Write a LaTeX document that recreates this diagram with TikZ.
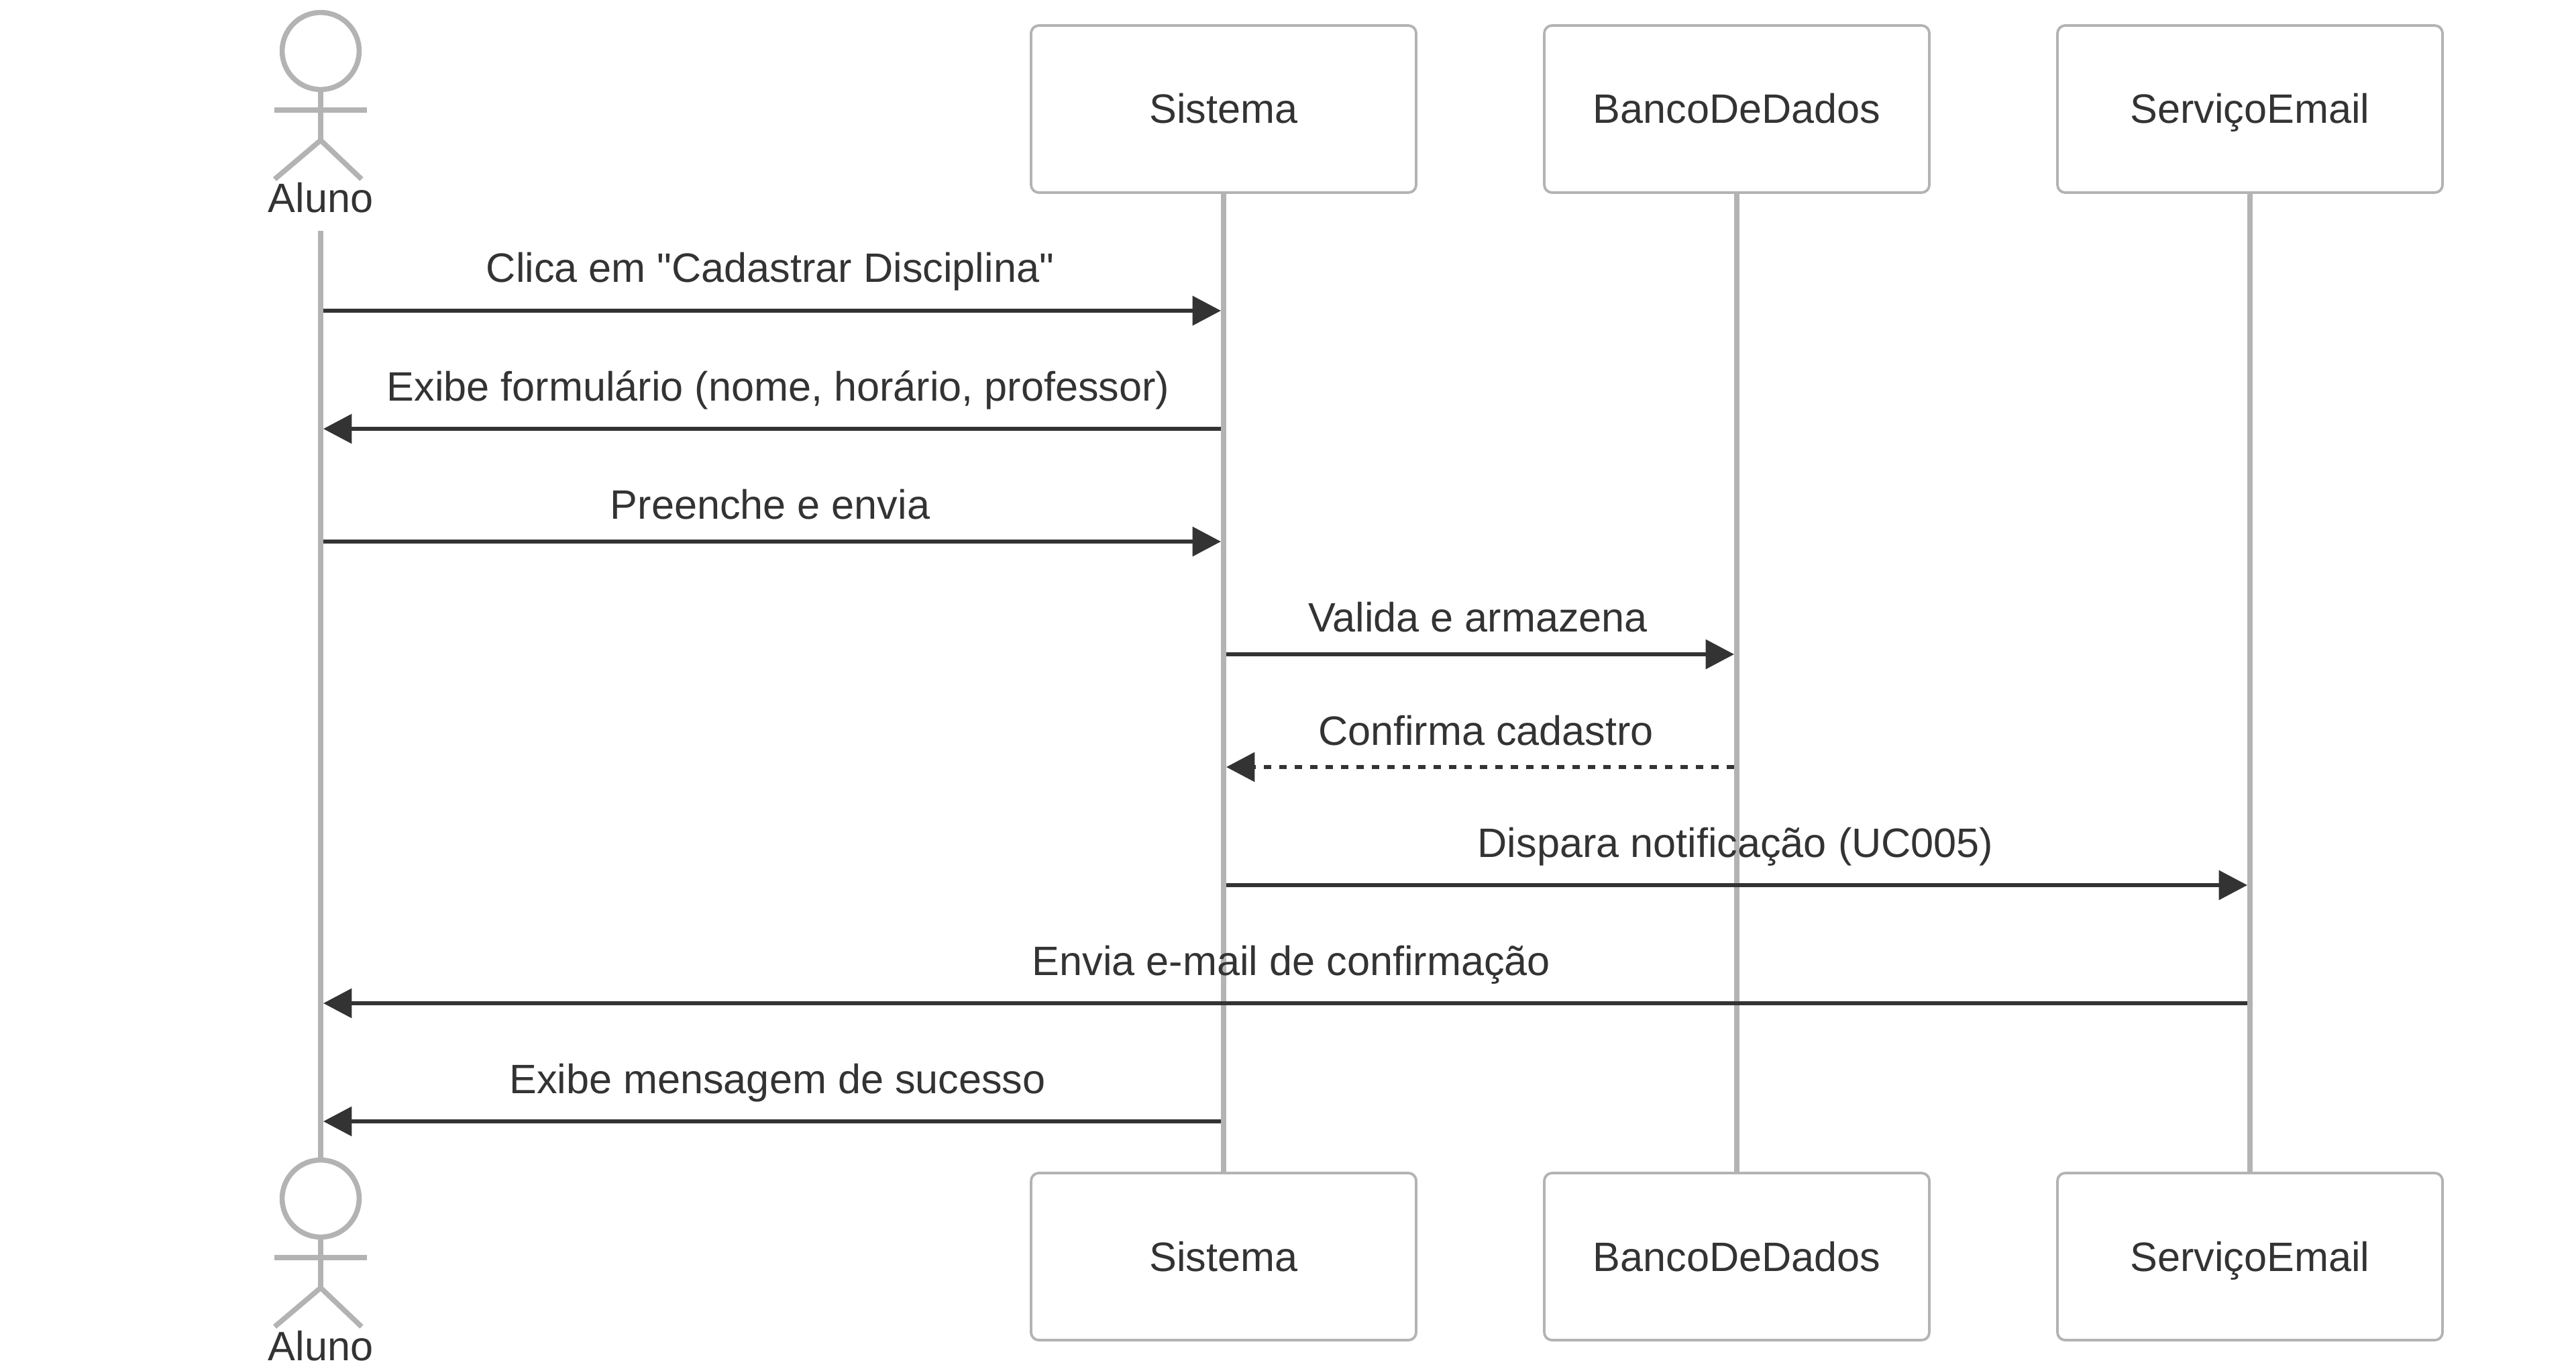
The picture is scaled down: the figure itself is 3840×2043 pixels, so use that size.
\documentclass[tikz,border=0pt]{standalone}
\usepackage{fontspec}
\setmainfont{Liberation Sans}[Ligatures=TeXOff]
\usetikzlibrary{arrows.meta}
\definecolor{inkc}{HTML}{333333}
\definecolor{lifec}{HTML}{B3B3B3}
\definecolor{boxc}{HTML}{B3B3B3}
\tikzset{
  x=0.25pt, y=-0.25pt,
  partbox/.style={draw=boxc, line width=0.956pt, fill=white, rounded corners=2.9pt,
    minimum width=143.5pt, minimum height=62.25pt, inner sep=0pt, outer sep=0pt,
    text=inkc, font=\fontsize{15.3}{18}\selectfont, text height=10.75pt, text depth=0pt},
  lifeln/.style={draw=lifec, line width=1.9125pt},
  actorln/.style={draw=lifec, line width=1.9125pt},
  msg/.style={draw=inkc, line width=1.435pt, -{Triangle[length=10.6pt,width=10.8pt,fill=inkc]}},
  msgdash/.style={msg, dash pattern=on 2.875pt off 2.875pt},
  msgtext/.style={anchor=base, inner sep=0pt, outer sep=0pt, text=inkc, font=\fontsize{15.3}{18}\selectfont},
}
\begin{document}
\begin{tikzpicture}
\useasboundingbox (0,0) rectangle (3840,2043);
\fill[white] (0,0) rectangle (3840,2043);

% lifeline end points of the actor
\coordinate (alunoLifeTop) at (478,344);
\coordinate (alunoLifeBot) at (478,1725);

% participant boxes
\node[partbox] (sisTop) at (1824,162.5) {Sistema};
\node[partbox] (banTop) at (2589,162.5) {BancoDeDados};
\node[partbox] (serTop) at (3354,162.5) {ServiçoEmail};
\node[partbox] (sisBot) at (1824,1872.5) {Sistema};
\node[partbox] (banBot) at (2589,1872.5) {BancoDeDados};
\node[partbox] (serBot) at (3354,1872.5) {ServiçoEmail};

% lifelines
\draw[lifeln] (alunoLifeTop) -- (alunoLifeBot);
\draw[lifeln] (sisTop.south) -- (sisBot.north);
\draw[lifeln] (banTop.south) -- (banBot.north);
\draw[lifeln] (serTop.south) -- (serBot.north);

% actors
\foreach \n/\dy in {T/0, B/1710}{
  \draw[actorln, fill=white] (478,76+\dy) circle[radius=57.4];
  \draw[actorln] (478,133+\dy) -- (478,209+\dy);
  \draw[actorln] (409,164+\dy) -- (547,164+\dy);
  \draw[actorln] (409.5,267+\dy) -- (478,209+\dy) -- (539,267+\dy);
  \node[msgtext] (aluno\n) at (478,317+\dy) {Aluno};
}

% message end points
\coordinate (m1s) at (482,463);    \coordinate (m1t) at (1820,463);
\coordinate (m2s) at (1820,639);   \coordinate (m2t) at (482,639);
\coordinate (m3s) at (482,807);    \coordinate (m3t) at (1820,807);
\coordinate (m4s) at (1828,975);   \coordinate (m4t) at (2585,975);
\coordinate (m5s) at (2585,1143);  \coordinate (m5t) at (1828,1143);
\coordinate (m6s) at (1828,1319);  \coordinate (m6t) at (3350,1319);
\coordinate (m7s) at (3350,1495);  \coordinate (m7t) at (482,1495);
\coordinate (m8s) at (1820,1671);  \coordinate (m8t) at (482,1671);

% message labels
\node[msgtext] (l1) at (1148,421) {Clica em "Cadastrar Disciplina"};
\node[msgtext] (l2) at (1160,597) {Exibe formulário (nome, horário, professor)};
\node[msgtext] (l3) at (1148,773) {Preenche e envia};
\node[msgtext] (l4) at (2203,941) {Valida e armazena};
\node[msgtext] (l5) at (2215,1110) {Confirma cadastro};
\node[msgtext] (l6) at (2587,1277) {Dispara notificação (UC005)};
\node[msgtext] (l7) at (1925,1453) {Envia e-mail de confirmação};
\node[msgtext] (l8) at (1159,1629) {Exibe mensagem de sucesso};

% messages
\draw[msg] (m1s) -- (m1t);
\draw[msg] (m2s) -- (m2t);
\draw[msg] (m3s) -- (m3t);
\draw[msg] (m4s) -- (m4t);
\draw[msgdash] (m5s) -- (m5t);
\draw[msg] (m6s) -- (m6t);
\draw[msg] (m7s) -- (m7t);
\draw[msg] (m8s) -- (m8t);
\end{tikzpicture}
\end{document}
